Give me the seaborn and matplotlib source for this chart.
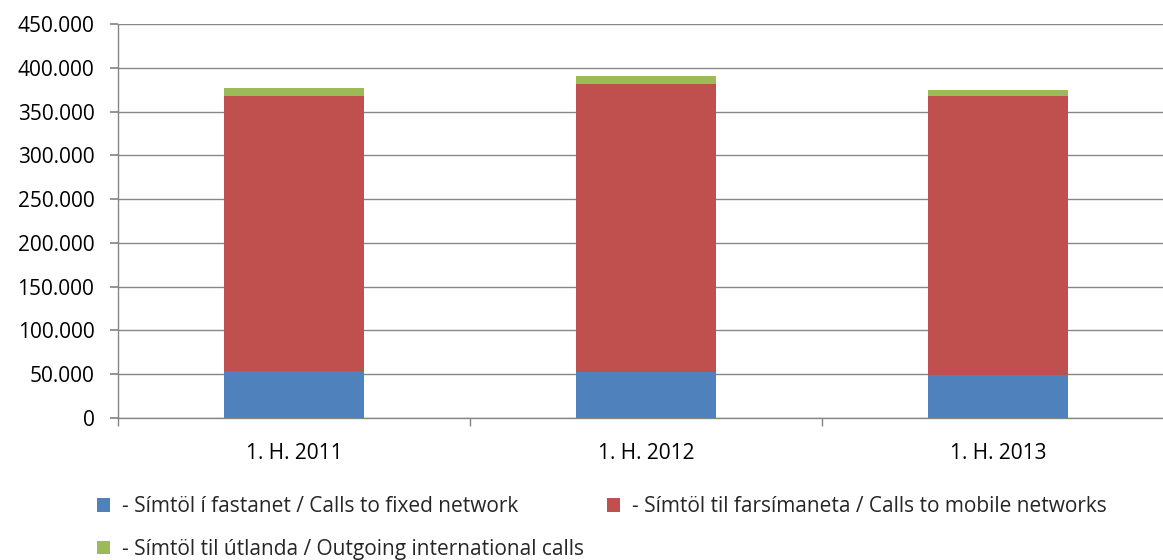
import matplotlib
matplotlib.use("Agg")
import matplotlib.pyplot as plt
import seaborn as sns
import pandas as pd
import numpy as np
from matplotlib.patches import Patch
from matplotlib.ticker import FuncFormatter, FixedLocator

categories = ["1. H. 2011", "1. H. 2012", "1. H. 2013"]
fixed = [53700, 52500, 49100]
mobile = [313900, 328800, 318500]
international = [9100, 9100, 6800]
series_names = [
    "- Símtöl í fastanet / Calls to fixed network",
    "- Símtöl til farsímaneta / Calls to mobile networks",
    "- Símtöl til útlanda / Outgoing international calls",
]
colors = ["#4F81BD", "#C0504D", "#9BBB59"]

sns.set_theme(style="white")
plt.rcParams["font.family"] = ["Open Sans", "DejaVu Sans"]

W, H = 1163, 560
fig = plt.figure(figsize=(W / 100, H / 100), dpi=100)
ax = fig.add_axes([118 / W, 1 - 418 / H, (1174 - 118) / W, (418 - 24) / H])

df = pd.DataFrame({"cat": categories, "fixed": fixed, "mobile": mobile, "intl": international})
df["c1"] = df["fixed"]
df["c2"] = df["fixed"] + df["mobile"]
df["c3"] = df["c2"] + df["intl"]

for col, colr in zip(["c3", "c2", "c1"], [colors[2], colors[1], colors[0]]):
    sns.barplot(data=df, x="cat", y=col, color=colr, width=0.4, saturation=1,
                ax=ax, zorder=3, linewidth=0)

ax.set_ylim(0, 450000)
ax.set_xlim(-0.5, 2.5)
ax.set_yticks(np.arange(0, 450001, 50000))
ax.yaxis.set_major_formatter(FuncFormatter(lambda v, p: f"{int(v):,}".replace(",", ".")))
ax.set_xlabel("")
ax.set_ylabel("")
ax.grid(axis="y", color="#868686", linewidth=1, zorder=0)
ax.grid(axis="x", visible=False)
for s in ["top", "right"]:
    ax.spines[s].set_visible(False)
for s in ["left", "bottom"]:
    ax.spines[s].set_color("#868686")
    ax.spines[s].set_linewidth(1)
ax.tick_params(axis="y", which="major", left=True, length=6, color="#868686",
               labelsize=15, labelcolor="black", pad=11)
ax.tick_params(axis="x", which="major", bottom=False, labelsize=15, labelcolor="black", pad=12)
ax.xaxis.set_minor_locator(FixedLocator([-0.5, 0.5, 1.5, 2.5]))
ax.tick_params(axis="x", which="minor", bottom=True, length=6, color="#868686", direction="out")

handles = [Patch(facecolor=c, edgecolor="none") for c in colors]
common = dict(loc="upper left", frameon=False, fontsize=15, handlelength=0.64,
              handleheight=0.64, handletextpad=0.55, labelspacing=1.05,
              borderpad=0, borderaxespad=0)
fig.legend([handles[0], handles[2]], [series_names[0], series_names[2]],
           bbox_to_anchor=(97 / W, 1 - 496 / H), **common)
fig.legend([handles[1]], [series_names[1]],
           bbox_to_anchor=(607 / W, 1 - 496 / H), **common)

fig.savefig("out.png", dpi=100)
